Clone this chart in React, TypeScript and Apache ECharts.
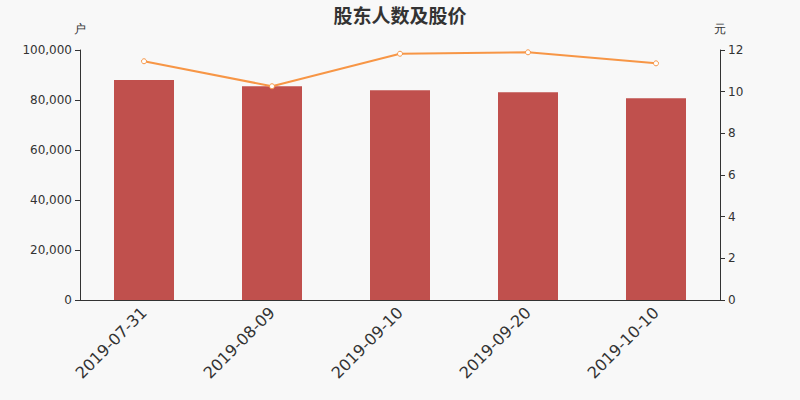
import { useEffect, useRef } from 'react';
import * as echarts from 'echarts';

const dates = ['2019-07-31', '2019-08-09', '2019-09-10', '2019-09-20', '2019-10-10'];
const holders = [88000, 85480, 83870, 83070, 80670];
const prices = [11.46, 10.26, 11.82, 11.89, 11.36];

const App = () => {
    const chartRef = useRef<HTMLDivElement>(null);

    useEffect(() => {
        const myChart = echarts.init(chartRef.current!, null, { renderer: 'svg' });
        myChart.setOption({
            animation: false,
            backgroundColor: '#f8f8f8',
            textStyle: { fontFamily: 'DejaVu Sans' },
            title: {
                text: '股东人数及股价',
                left: 'center',
                top: 4,
                padding: 0,
                textStyle: {
                    fontSize: 19,
                    lineHeight: 20,
                    fontWeight: 'bold',
                    color: '#333',
                    fontFamily: 'Noto Sans CJK SC',
                },
            },
            grid: { left: 80, right: 80, top: 50, bottom: 100 },
            xAxis: {
                type: 'category',
                data: dates,
                axisLine: { lineStyle: { color: '#333' } },
                axisLabel: { rotate: 45, fontSize: 16, color: '#333', margin: 10 },
            },
            yAxis: [
                {
                    type: 'value',
                    name: '户',
                    min: 0,
                    max: 100000,
                    interval: 20000,
                    nameGap: 15,
                    nameTextStyle: { color: '#333', align: 'center' },
                    splitLine: { show: false },
                    axisLine: { show: true, lineStyle: { color: '#333' } },
                    axisTick: { show: true },
                    axisLabel: { color: '#333', formatter: (v: number) => v.toLocaleString('en-US') },
                },
                {
                    type: 'value',
                    name: '元',
                    min: 0,
                    max: 12,
                    interval: 2,
                    nameGap: 15,
                    nameTextStyle: { color: '#333', align: 'center' },
                    splitLine: { show: false },
                    axisLine: { show: true, lineStyle: { color: '#333' } },
                    axisTick: { show: true },
                    axisLabel: { color: '#333' },
                },
            ],
            series: [
                {
                    type: 'bar',
                    data: holders,
                    barWidth: 60,
                    itemStyle: { color: '#c0504d' },
                },
                {
                    type: 'line',
                    yAxisIndex: 1,
                    data: prices,
                    symbol: 'circle',
                    symbolSize: 5,
                    lineStyle: { color: '#f79646', width: 2 },
                    itemStyle: { color: '#fff', borderColor: '#f79646', borderWidth: 1 },
                },
            ],
        });
        return () => {
            myChart.dispose();
        };
    }, []);

    return (
        <div
            ref={chartRef}
            style={{ position: 'absolute', left: 0, top: 0, width: 800, height: 400 }}
        />
    );
};

export default App;
